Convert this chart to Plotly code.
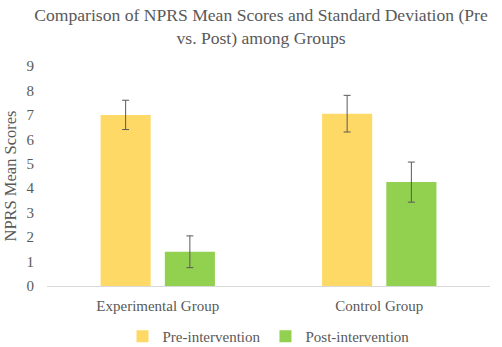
import plotly.graph_objects as go

groups = ["Experimental Group", "Control Group"]
pre_mean = [7.0, 7.05]
pre_sd = [0.6, 0.75]
post_mean = [1.4, 4.25]
post_sd = [0.65, 0.82]

FONT = "Liberation Serif"
GRAY = "#595959"

fig = go.Figure()
fig.add_trace(go.Bar(
    name="Pre-intervention", x=groups, y=pre_mean,
    marker=dict(color="#FFD966", line=dict(width=0)),
    error_y=dict(type="data", array=pre_sd, visible=True, color=GRAY, thickness=1, width=3.5),
))
fig.add_trace(go.Bar(
    name="Post-intervention", x=groups, y=post_mean,
    marker=dict(color="#92D050", line=dict(width=0)),
    error_y=dict(type="data", array=post_sd, visible=True, color=GRAY, thickness=1, width=3.5),
))

fig.update_layout(
    width=502, height=347,
    margin=dict(l=47, r=12, t=66, b=61),
    paper_bgcolor="white", plot_bgcolor="white",
    barmode="group", bargap=0.42, bargroupgap=0.22,
    font=dict(family=FONT, color=GRAY, size=15),
    title=dict(
        text="Comparison of NPRS Mean Scores and Standard Deviation (Pre<br>vs. Post) among Groups",
        x=0.52, xanchor="center", y=0.94, yanchor="top",
        font=dict(family=FONT, size=17.6, color=GRAY),
    ),
    showlegend=True,
    legend=dict(orientation="h", x=0.5, xanchor="center", yref="container", y=0.03, yanchor="middle",
                font=dict(family=FONT, size=15, color=GRAY), itemwidth=30, traceorder="normal",
                tracegroupgap=0),
    xaxis=dict(showline=True, linecolor="#D9D9D9", linewidth=1, ticks="", showgrid=False, automargin=False,
               tickfont=dict(family=FONT, size=15, color=GRAY), ticklabelstandoff=6),
    yaxis=dict(range=[0, 9], dtick=1, showgrid=False, zeroline=False, showline=False, ticks="", automargin=False,
               tickfont=dict(family=FONT, size=15, color=GRAY), ticklabelstandoff=12,
               title=dict(text="NPRS Mean Scores", font=dict(family=FONT, size=16.5, color=GRAY), standoff=5)),
)

fig.write_html("out.html")
